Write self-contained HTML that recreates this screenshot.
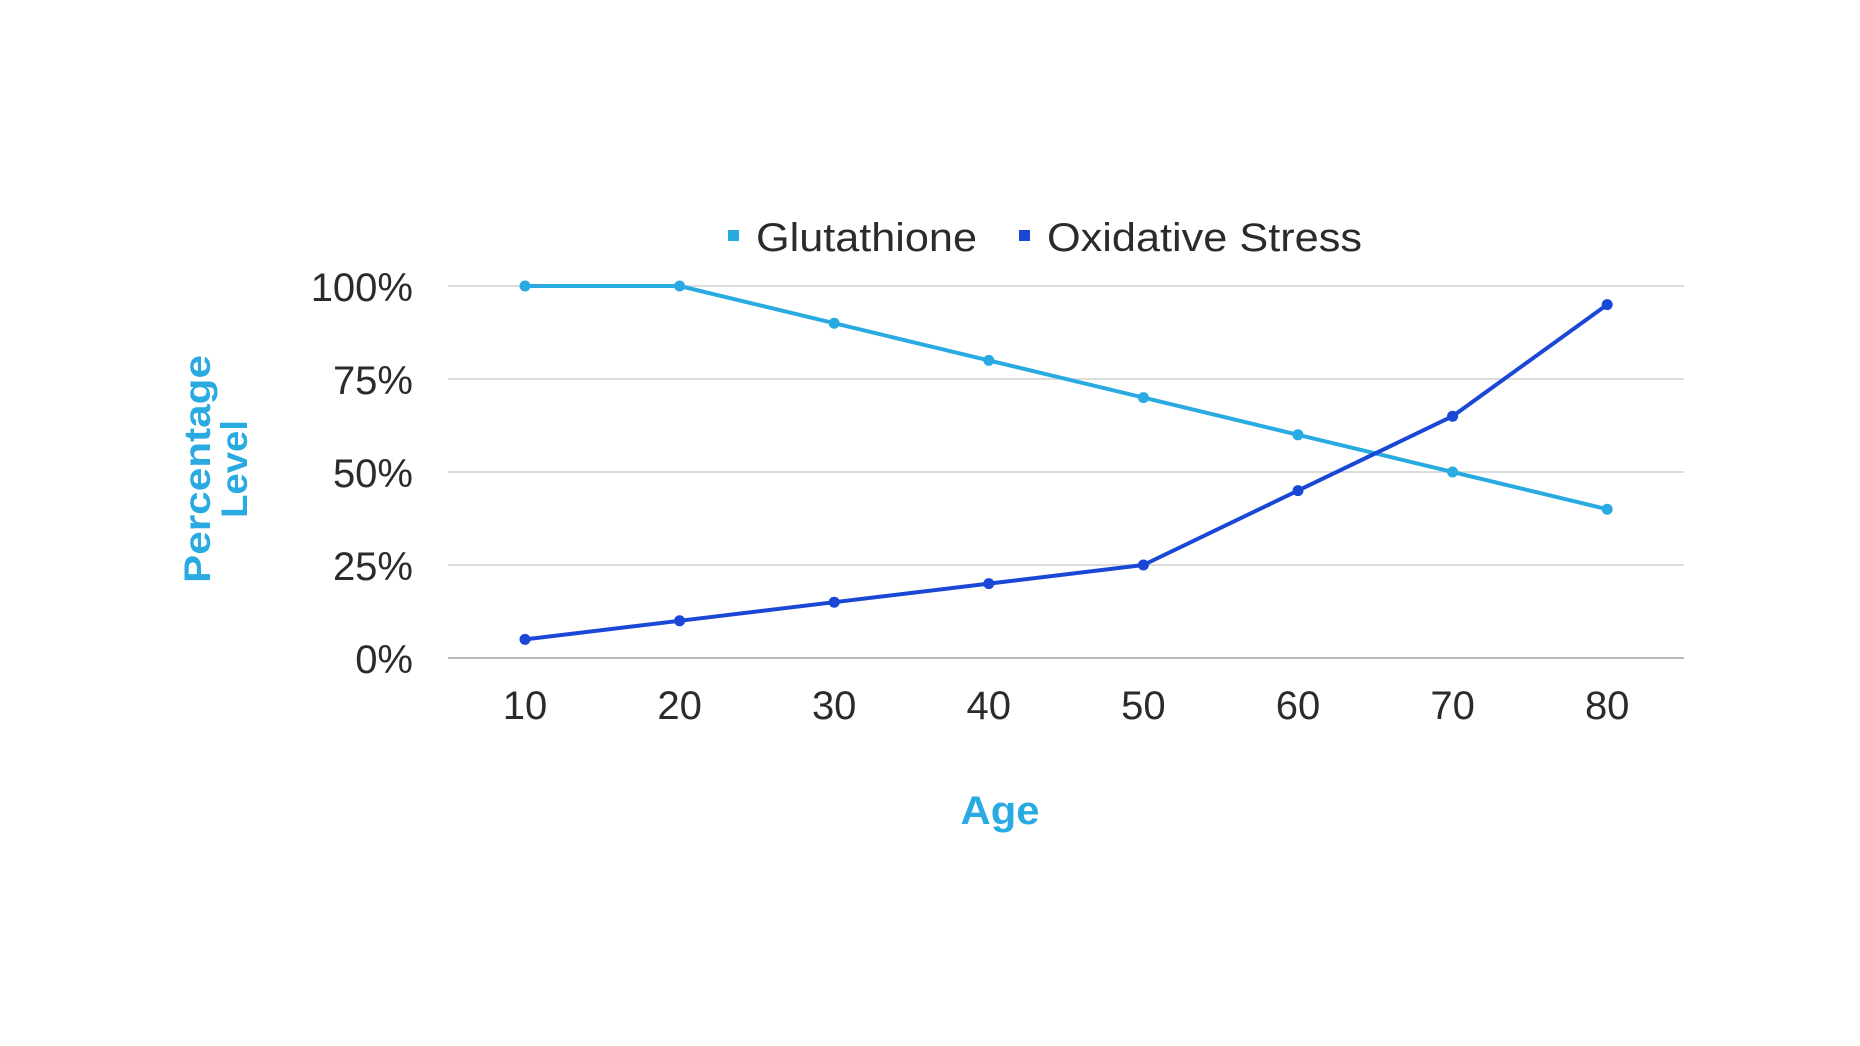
<!DOCTYPE html>
<html><head><meta charset="utf-8"><style>
html,body{margin:0;padding:0;background:#fff;}
svg{display:block;font-family:"Liberation Sans",sans-serif;}
</style></head><body>
<svg id="chart" width="1860" height="1046" viewBox="0 0 1860 1046" xmlns="http://www.w3.org/2000/svg">
<rect width="1860" height="1046" fill="#fff"/>
<g id="grid"></g>
<g id="yticks"></g>
<g id="xticks"></g>
<g id="series"></g>
<g>
  <rect x="728" y="230" width="11" height="11" fill="#29abe2"/>
  <text x="756" y="251" font-size="40" fill="#2b2b2b" textLength="221" lengthAdjust="spacingAndGlyphs">Glutathione</text>
  <rect x="1019" y="230" width="11" height="11" fill="#1a47d6"/>
  <text x="1047" y="251" font-size="40" fill="#2b2b2b" textLength="315" lengthAdjust="spacingAndGlyphs">Oxidative Stress</text>
</g>
<g transform="rotate(-90)" fill="#29abe2" font-weight="bold" font-size="37">
  <text x="-469" y="210" text-anchor="middle" textLength="228" lengthAdjust="spacingAndGlyphs">Percentage</text>
  <text x="-469" y="247" text-anchor="middle" textLength="98" lengthAdjust="spacingAndGlyphs">Level</text>
</g>
<text x="1000" y="824" text-anchor="middle" font-size="40" font-weight="bold" fill="#29abe2" textLength="79" lengthAdjust="spacingAndGlyphs">Age</text>
</svg>
<script>
const categories = [10, 20, 30, 40, 50, 60, 70, 80];
const glutathione = [100, 100, 90, 80, 70, 60, 50, 40];
const oxidativeStress = [5, 10, 15, 20, 25, 45, 65, 95];
const yTicks = [0, 25, 50, 75, 100];
const yTickLabels = ["0%", "25%", "50%", "75%", "100%"];

const NS = "http://www.w3.org/2000/svg";
const plotL = 448, plotR = 1684, yTop = 286, yBot = 658;
const x0 = 525, xStep = 154.6;
function xScale(i){ return x0 + i * xStep; }
function yScale(v){ return yBot - (v / 100) * (yBot - yTop); }
function mk(tag, attrs, parent){
  const e = document.createElementNS(NS, tag);
  for (const k in attrs) e.setAttribute(k, attrs[k]);
  parent.appendChild(e);
  return e;
}
const grid = document.getElementById('grid');
const yt = document.getElementById('yticks');
yTicks.forEach((v, i) => {
  const y = yScale(v);
  const l = mk('line', {x1: plotL, x2: plotR, y1: y, y2: y, stroke: v === 0 ? '#b8b8b8' : '#dcdcdc', 'stroke-width': 2}, grid);
  
  
  const t = mk('text', {x: 413, y: y + 15, 'text-anchor': 'end', 'font-size': 40, fill: '#2b2b2b'}, yt);
  t.textContent = yTickLabels[i];
  
  
});
const xt = document.getElementById('xticks');
categories.forEach((c, i) => {
  const t = mk('text', {x: xScale(i), y: 719, 'text-anchor': 'middle', 'font-size': 40, fill: '#2b2b2b'}, xt);
  t.textContent = c;
  
  
});
const sg = document.getElementById('series');
function drawSeries(vals, color, name){
  const pts = vals.map((v, i) => xScale(i) + ',' + yScale(v)).join(' ');
  const pl = mk('polyline', {points: pts, fill: 'none', stroke: color, 'stroke-width': 4, 'stroke-linejoin': 'round'}, sg);
  
  
  vals.forEach((v, i) => {
    const c = mk('circle', {cx: xScale(i), cy: yScale(v), r: 5.5, fill: color}, sg);
    
    
  });
}
drawSeries(glutathione, '#29abe2', 'glutathione');
drawSeries(oxidativeStress, '#1a47d6', 'oxidative-stress');
</script>
</body></html>
